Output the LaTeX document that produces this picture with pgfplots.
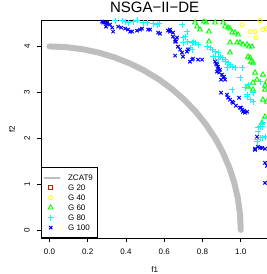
\documentclass[border=0pt]{standalone}
\usepackage{pgfplots}
\pgfplotsset{compat=1.18}
\usepackage{fontspec}
\setmainfont{Liberation Sans}
\definecolor{rgray}{RGB}{190,190,190}
\definecolor{rblue}{RGB}{0,0,255}
\definecolor{rcyan}{RGB}{0,255,255}
\definecolor{rgreen}{RGB}{0,255,0}
\definecolor{ryellow}{RGB}{255,255,0}
\definecolor{rred}{RGB}{255,0,0}
\pgfplotsset{
  markleg/.style={legend image code/.code={\path[draw=none,fill=none] (0pt,-2pt) rectangle (15pt,2pt); \draw[##1] plot coordinates {(6pt,0pt)};}},
  lineleg/.style={legend image code/.code={\draw[rgray, line width=2pt] (0pt,0pt) -- (15pt,0pt);}},
}
\begin{document}
\begin{tikzpicture}[x=1pt,y=1pt]
\begin{axis}[
  at={(41pt,36pt)}, anchor=south west,
  scale only axis, width=227.3pt, height=218pt,
  xmin=-0.044, xmax=1.144, ymin=-0.176, ymax=4.576,
  axis line style={line width=0.9pt},
  xtick={0,0.2,0.4,0.6,0.8,1.0},
  xticklabels={0.0,0.2,0.4,0.6,0.8,1.0},
  ytick={0,1,2,3,4},
  yticklabels={0,1,2,3,4},
  tick align=outside, xtick pos=bottom, ytick pos=left,
  major tick length=4pt,
  tick style={line width=0.7pt, black},
  tick label style={font=\fontsize{8}{9}\selectfont},
  xticklabel style={anchor=north, inner sep=0pt},
  yticklabel style={rotate=90, anchor=south, inner sep=0pt},
  xticklabel shift=7pt, yticklabel shift=7pt,
  title={NSGA−II−DE},
  title style={font=\fontsize{15}{18}\selectfont, at={(axis description cs:0.5,1)}, anchor=base, yshift=2pt, inner sep=0pt},
  xlabel={f1},
  xlabel style={at={(axis description cs:0.5,-0.147)}, anchor=center, font=\fontsize{8}{9}\selectfont},
  ylabel={f2},
  ylabel style={at={(axis description cs:-0.128,0.5)}, anchor=center, font=\fontsize{8}{9}\selectfont},
  legend style={at={(axis description cs:0,0)}, anchor=south west, draw=black, line width=0.8pt, fill=white,
    inner xsep=2.3pt, inner ysep=5pt, font=\fontsize{8}{9}\selectfont,
    nodes={inner xsep=2pt, inner ysep=1.5pt, text height=6pt, text depth=1pt},
    row sep=0pt, /tikz/every odd column/.append style={column sep=5.4pt}},
  legend cell align=left,
]
\addplot[rgray, line width=6pt, line cap=round, line join=round, lineleg]
  coordinates {
(0,4) (0.0872,3.9848) (0.1736,3.9392) (0.2588,3.8637) (0.3420,3.7588) (0.4226,3.6252)
(0.5,3.4641) (0.5736,3.2766) (0.6428,3.0642) (0.7071,2.8284) (0.7660,2.5712) (0.8192,2.2943)
(0.8660,2.0) (0.9063,1.6905) (0.9397,1.3681) (0.9659,1.0353) (0.9848,0.6946) (0.9962,0.3486) (1,0)
};
\addlegendentry{ZCAT9}
\addlegendimage{only marks, mark=square, rred, mark size=2pt, line width=0.9pt, markleg}
\addlegendentry{G 20}
\addplot[only marks, mark=o, ryellow, mark size=2pt, line width=0.9pt, markleg]
  coordinates {
(1.007,4.476) (1.049,4.323) (1.075,4.323) (1.080,4.192) (1.101,4.563) (1.116,4.367) (1.137,4.389)
};
\addlegendentry{G 40}
\addplot[only marks, mark=triangle, rgreen, mark size=2.8pt, line width=0.9pt, markleg]
  coordinates {
(0.761,4.520) (0.787,4.367) (0.808,4.541) (0.819,4.520) (0.834,4.323) (0.866,4.520) (0.908,4.520)
(0.918,4.432) (0.944,4.389) (0.955,4.301) (0.970,4.301) (0.986,4.258) (0.834,4.105) (0.944,4.083)
(0.981,4.083) (0.996,4.083) (1.012,4.039) (1.033,4.039) (1.043,3.996) (1.059,3.996) (1.038,3.777)
(1.049,3.755) (1.054,3.668) (1.064,3.646) (1.075,3.428) (1.085,3.275) (1.064,3.210) (1.038,3.122)
(1.064,3.057) (1.116,3.384) (1.137,3.231) (1.127,3.144) (1.127,3.057) (1.116,2.838) (1.137,2.795)
(1.127,2.467) (1.111,2.336) (0.944,3.865) (0.934,4.410) (0.772,4.432)
};
\addlegendentry{G 60}
\addplot[only marks, mark=+, rcyan, mark size=3pt, line width=0.9pt, markleg]
  coordinates {
(0.343,4.563) (0.380,4.563) (0.396,4.541) (0.411,4.520) (0.437,4.541) (0.458,4.570) (0.490,4.520)
(0.510,4.520) (0.542,4.498) (0.563,4.476) (0.573,4.498) (0.693,4.476) (0.719,4.323) (0.709,4.214)
(0.698,4.083) (0.724,4.105) (0.746,4.083) (0.751,4.105) (0.777,4.039) (0.735,3.974) (0.746,3.930)
(0.824,3.996) (0.840,3.974) (0.850,3.930) (0.866,3.886) (0.881,3.865) (0.866,3.777) (0.902,3.755)
(0.918,3.712) (0.934,3.646) (0.944,3.603) (0.955,3.559) (0.970,3.537) (1.007,3.537) (0.928,3.537)
(0.996,3.319) (0.955,3.057) (1.022,3.100) (1.033,2.904) (1.049,2.838) (1.064,2.795) (1.033,2.948)
(1.101,3.231) (1.137,2.445) (1.116,2.336) (1.101,2.249) (1.090,2.140) (1.085,1.965) (1.111,2.009)
(1.127,2.031) (1.064,2.991) (1.038,3.166) (0.698,4.192) (0.761,4.083) (0.892,3.777) (0.855,3.777)
(0.881,3.712) (0.918,3.668) (1.090,2.227) (1.111,2.249) (1.101,2.009) (1.116,2.009) (1.085,1.921)
};
\addlegendentry{G 80}
\addplot[only marks, mark=x, rblue, mark size=2.4pt, line width=1pt, markleg]
  coordinates {
(0.275,4.541) (0.291,4.520) (0.301,4.498) (0.317,4.476) (0.296,4.432) (0.333,4.323) (0.359,4.432)
(0.375,4.410) (0.396,4.389) (0.411,4.367) (0.432,4.323) (0.458,4.345) (0.484,4.389) (0.516,4.367)
(0.526,4.367) (0.568,4.301) (0.578,4.279) (0.620,4.345) (0.630,4.323) (0.646,4.301) (0.646,4.214)
(0.667,4.192) (0.657,4.148) (0.662,4.105) (0.657,4.105) (0.672,3.996) (0.683,3.930) (0.693,3.865)
(0.698,3.777) (0.657,3.799) (0.719,3.886) (0.724,3.930) (0.735,3.668) (0.746,3.712) (0.751,3.734)
(0.777,3.712) (0.798,3.712) (0.866,3.668) (0.876,3.603) (0.881,3.559) (0.892,3.493) (0.876,3.450)
(0.887,3.428) (0.902,3.384) (0.908,3.319) (0.918,3.275) (0.897,3.275) (0.897,2.991) (0.928,2.948)
(0.934,2.882) (0.944,2.838) (0.955,2.795) (0.960,2.773) (0.991,2.882) (0.996,2.664) (1.007,2.620)
(1.012,2.576) (1.033,2.576) (1.022,2.555) (1.085,2.031) (1.075,1.747) (1.090,1.812) (1.101,1.790)
(1.111,1.790) (1.127,1.769) (1.127,1.463) (1.137,1.397) (1.127,1.026) (0.281,4.520) (0.301,4.520)
(0.328,4.410) (0.422,4.323) (0.474,4.367) (0.630,4.367) (0.871,3.624) (0.881,3.515) (0.913,3.341)
(0.975,2.707) (1.017,2.598) (1.001,2.664) (1.075,1.769)
};
\addlegendentry{G 100}
\end{axis}
\pgfresetboundingbox
\path[use as bounding box] (0,0) rectangle (267,274);
\end{tikzpicture}
\end{document}
